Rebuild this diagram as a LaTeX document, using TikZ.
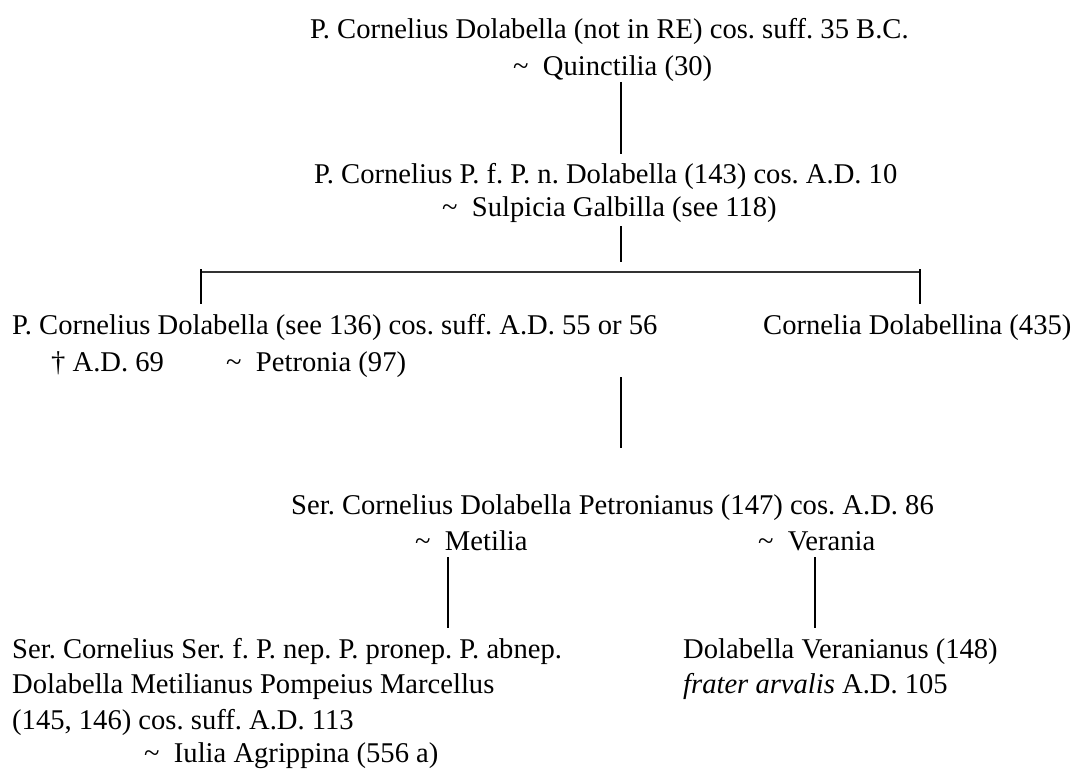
\documentclass[tikz,border=0pt]{standalone}
\usepackage{fontspec}
\setmainfont{Liberation Serif}
\begin{document}
\frenchspacing
\begin{tikzpicture}[x=1pt, y=-1pt, font=\fontsize{28.6}{36.5}\selectfont,
  txt/.style={anchor=base west, inner sep=0pt},
  stem/.style={line width=1.9pt},
  bar/.style={line width=1.3pt, draw=black!80}]
\useasboundingbox (0,0) rectangle (1075,770);
\node[txt] (p0) at (310,39){P. Cornelius Dolabella (not in RE) cos. suff. 35 B.C.};
\node[txt] (w0) at (513,76){\textasciitilde\ \ Quinctilia (30)};
\node[txt] (p1) at (314,183){P. Cornelius P. f. P. n. Dolabella (143) cos. A.D. 10};
\node[txt] (w1) at (442,216){\textasciitilde\ \ Sulpicia Galbilla (see 118)};
\node[txt] (p2) at (12,334){P. Cornelius Dolabella (see 136) cos. suff. A.D. 55 or 56};
\node[txt] (p3) at (763,334){Cornelia Dolabellina (435)};
\node[txt] (d2) at (51,371){\textdagger\ A.D. 69};
\node[txt] (w2) at (226,371){\textasciitilde\ \ Petronia (97)};
\node[txt] (p4) at (291,514){Ser. Cornelius Dolabella Petronianus (147) cos. A.D. 86};
\node[txt] (w4a) at (415,550){\textasciitilde\ \ Metilia};
\node[txt] (w4b) at (758,550){\textasciitilde\ \ Verania};
\node[txt] (p5a) at (12,658){Ser. Cornelius Ser. f. P. nep. P. pronep. P. abnep.};
\node[txt] (p5b) at (12,693){Dolabella Metilianus Pompeius Marcellus};
\node[txt] (p5c) at (12,729){(145, 146) cos. suff. A.D. 113};
\node[txt] (w5) at (144,762){\textasciitilde\ \ Iulia Agrippina (556 a)};
\node[txt] (p6a) at (683,658){Dolabella Veranianus (148)};
\node[txt] (p6b) at (683,693){\textit{frater arvalis} A.D. 105};
\coordinate (j0a) at (621,82);
\coordinate (j0b) at (621,154);
\coordinate (j1a) at (621,226);
\coordinate (j1b) at (621,262);
\coordinate (hl) at (200,272);
\coordinate (hr) at (920,272);
\coordinate (j2a) at (201,269);
\coordinate (j2b) at (201,304);
\coordinate (j3a) at (920,269);
\coordinate (j3b) at (920,304);
\coordinate (j4a) at (621,377);
\coordinate (j4b) at (621,448);
\coordinate (j5a) at (448,557);
\coordinate (j5b) at (448,628);
\coordinate (j6a) at (815,557);
\coordinate (j6b) at (815,628);
\draw[stem](j0a) -- (j0b);
\draw[stem](j1a) -- (j1b);
\draw[bar](hl) -- (hr);
\draw[stem](j2a) -- (j2b);
\draw[stem](j3a) -- (j3b);
\draw[stem](j4a) -- (j4b);
\draw[stem](j5a) -- (j5b);
\draw[stem](j6a) -- (j6b);
\end{tikzpicture}
\end{document}
